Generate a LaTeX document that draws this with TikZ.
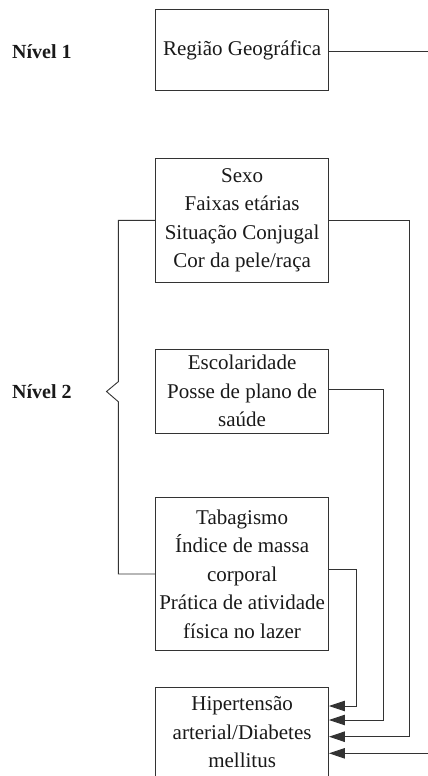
\documentclass[tikz,border=0pt]{standalone}
\usepackage{fontspec}
\setmainfont{Liberation Serif}
\usetikzlibrary{arrows.meta,calc}
\begin{document}
\begin{tikzpicture}[x=1pt,y=-1pt,
  box/.style={draw=black!80,line width=0.9pt,inner sep=0pt,minimum width=172.8pt,
    align=center,text=black!90,font=\fontsize{21}{28.5}\selectfont},
  conn/.style={draw=black!80,line width=0.9pt},
  arr/.style={conn,-{Triangle[length=16pt,width=10.5pt]}},
  lvl/.style={anchor=west,inner sep=0pt,font=\fontsize{20}{22}\selectfont\bfseries,text=black!90}]
\useasboundingbox (0,0) rectangle (428,776);
\node[box,minimum height=80.7pt] (b1) at (242.1,50.3) {Região Geográfica};
\node[box,minimum height=124pt] (b2) at (242.1,220.3) {Sexo\\Faixas etárias\\Situação Conjugal\\Cor da pele/raça};
\node[box,minimum height=84.3pt] (b3) at (242.1,391.2) {Escolaridade\\Posse de plano de\\saúde};
\node[box,minimum height=153.4pt] (b4) at (242.1,574) {Tabagismo\\Índice de massa\\corporal\\Prática de atividade\\física no lazer};
\node[box,minimum height=89.7pt] (b5) at (242.1,732.2) {Hipertensão\\arterial/Diabetes\\mellitus};
\node[lvl] (n1) at (12,52) {Nível 1};
\node[lvl] (n2) at (12,392) {Nível 2};
% bracket
\coordinate (q1) at (118.3,220.3);
\coordinate (q2) at (118.3,381.7);
\coordinate (q3) at (106.5,391.5);
\coordinate (q4) at (118.3,401.7);
\draw[conn] (b2.west) -- (q1) -- (q2) -- (q3) -- (q4) |- (b4.west);
% connectors to outcome
\coordinate (k4) at (356.7,706);
\coordinate (k3) at (383.3,720);
\coordinate (k2) at (409.3,736.7);
\coordinate (k1) at (440,753.3);
\draw[arr] ([yshift=4.7pt]b4.east) -| (k4) -- (k4 -| b5.east);
\draw[arr] ([yshift=1.9pt]b3.east) -| (k3) -- (k3 -| b5.east);
\draw[arr] (b2.east) -| (k2) -- (k2 -| b5.east);
\draw[arr] ([yshift=-0.7pt]b1.east) -| (k1) -- (k1 -| b5.east);
\end{tikzpicture}
\end{document}
